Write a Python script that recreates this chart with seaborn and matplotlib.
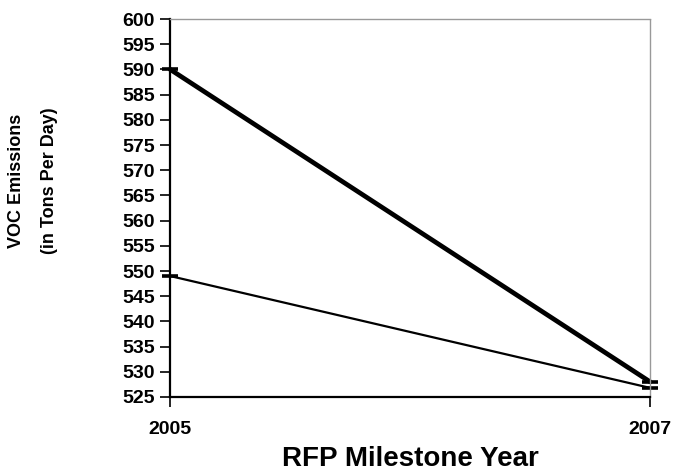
import matplotlib
matplotlib.use("Agg")
import matplotlib.pyplot as plt
import seaborn as sns
import pandas as pd

years = [2005, 2007]
series_a = [590, 528]     # thick line
series_b = [549, 526.8]   # thin line
y_ticks = list(range(525, 601, 5))

sns.set_style("white")
plt.rcParams['font.family'] = ['Liberation Sans', 'DejaVu Sans']
plt.rcParams['text.color'] = 'black'
plt.rcParams['xtick.color'] = 'black'
plt.rcParams['ytick.color'] = 'black'
plt.rcParams['axes.labelcolor'] = 'black'

df = pd.DataFrame({
    "year": years * 2,
    "value": series_a + series_b,
    "series": ["A"] * 2 + ["B"] * 2,
})

fig = plt.figure(figsize=(6.78, 4.76), dpi=100)
ax = fig.add_axes([0.251, 0.166, 0.708, 0.794])

sns.lineplot(data=df[df.series == "A"], x="year", y="value", ax=ax,
             color="black", linewidth=3.4, marker="_", markersize=12,
             markeredgewidth=2.6, markeredgecolor="black",
             legend=False, clip_on=False)
sns.lineplot(data=df[df.series == "B"], x="year", y="value", ax=ax,
             color="black", linewidth=1.6, marker="_", markersize=12,
             markeredgewidth=2.6, markeredgecolor="black",
             legend=False, clip_on=False)

ax.set_xlim(2005, 2007)
ax.set_ylim(525, 600)
ax.set_yticks(y_ticks)
ax.set_yticklabels([str(t) for t in y_ticks], fontsize=14, fontweight="bold")
ax.set_xticks(years)
ax.set_xticklabels([str(y) for y in years], fontsize=14, fontweight="bold")
ax.tick_params(axis="y", direction="out", length=7, width=1.2, left=True, pad=4,
               colors="black")
ax.tick_params(axis="x", direction="out", length=7, width=1.2, bottom=True, pad=10,
               colors="black")

for s in ["left", "bottom"]:
    ax.spines[s].set_color("black")
    ax.spines[s].set_linewidth(1.6)
for s in ["top", "right"]:
    ax.spines[s].set_color("#999999")
    ax.spines[s].set_linewidth(1.0)
    ax.spines[s].set_linestyle((0, (2, 1)))

ax.set_xlabel("RFP Milestone Year", fontsize=20, fontweight="bold", labelpad=6,
              color="black")
ax.set_ylabel("")
fig.text(0.025, 0.62, "VOC Emissions", rotation=90, ha="center", va="center",
         fontsize=13, fontweight="bold", color="black")
fig.text(0.073, 0.62, "(in Tons Per Day)", rotation=90, ha="center", va="center",
         fontsize=13, fontweight="bold", color="black")

fig.savefig("out.png", dpi=100)
